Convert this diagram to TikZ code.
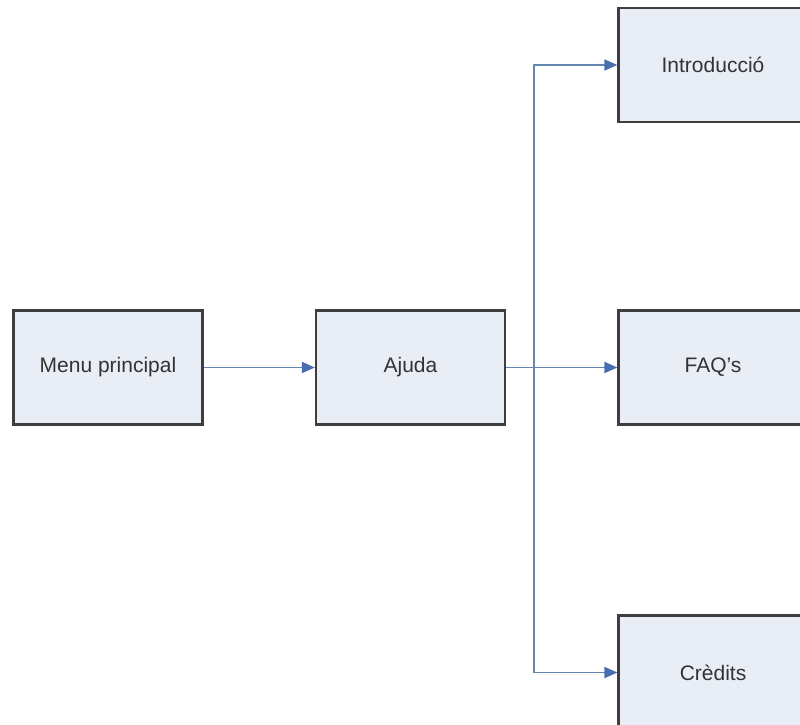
\documentclass[tikz,border=0pt]{standalone}
\usepackage{fontspec}
\setmainfont{Liberation Sans}
\usetikzlibrary{arrows.meta}
\definecolor{boxfill}{HTML}{E8EDF6}
\definecolor{boxline}{HTML}{3E3E3E}
\definecolor{connline}{HTML}{6586B0}
\definecolor{tipcol}{HTML}{4A6EAD}
\begin{document}
\begin{tikzpicture}[x=1pt,y=1pt,
  box/.style={draw=boxline, fill=boxfill, line width=2.2pt, minimum width=189pt, minimum height=114pt, inner sep=0pt, font=\fontsize{21}{24}\selectfont, text=black!80},
  conn/.style={draw=connline, line width=1.8pt, -{Triangle[length=13pt,width=11pt,fill=tipcol,color=tipcol]}}]
\useasboundingbox (0,0) rectangle (800,-724);
\clip (0,0) rectangle (800,-724);
\fill[white] (0,0) rectangle (800,-724);
\node[box] (menu) at (108,-367.5) {Menu principal};
\node[box] (ajuda) at (410.5,-367.5) {Ajuda};
\node[box] (intro) at (713,-65) {Introducció};
\node[box] (faq) at (713,-367.5) {FAQ’s};
\node[box] (credits) at (713,-672.5) {Crèdits};
\draw[conn] (menu.east) -- (ajuda.west);
\draw[conn] (ajuda.east) -- (faq.west);
\draw[conn] (ajuda.east) -- ++(28,0) |- (intro.west);
\draw[conn] (ajuda.east) -- ++(28,0) |- (credits.west);
\end{tikzpicture}
\end{document}
